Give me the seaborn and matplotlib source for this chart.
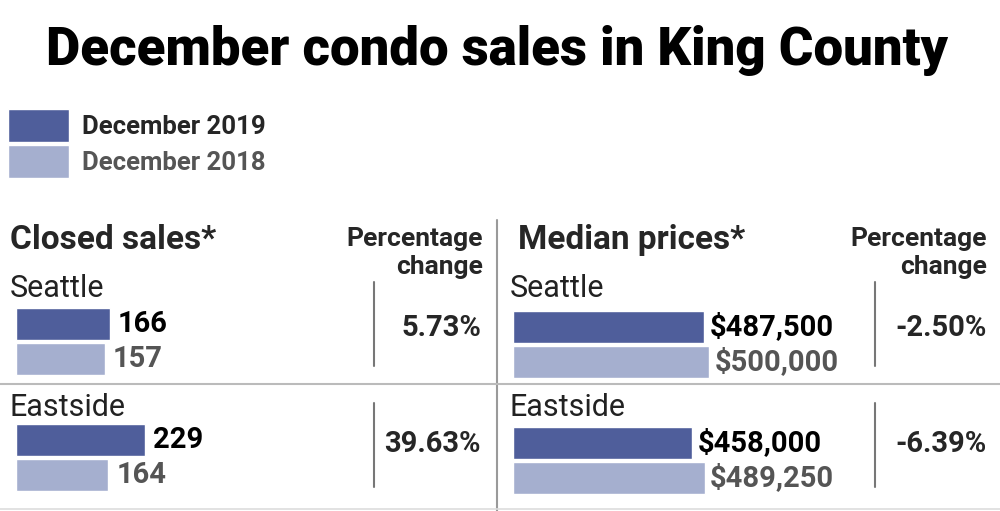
import numpy as np
import pandas as pd
import matplotlib.pyplot as plt
import seaborn as sns

# data
regions = ["Seattle", "Eastside"]
years = ["December 2019", "December 2018"]
closed_2019 = [166, 229]
closed_2018 = [157, 164]
price_2019 = [487500, 458000]
price_2018 = [500000, 489250]

DARK = "#4f5e9b"
LIGHT = "#a5afcf"
GRAY_TXT = "#555555"
LINE = "#9a9a9a"

sns.set_theme(style="white")
FONT = ["Roboto", "DejaVu Sans"]
plt.rcParams["font.family"] = FONT

W, H = 1000, 511


def px_axes(fig, left, top, width, height):
    return fig.add_axes([left / W, 1 - (top + height) / H, width / W, height / H])


def long_df(v19, v18):
    return pd.DataFrame({
        "region": regions * 2,
        "year": [years[0]] * 2 + [years[1]] * 2,
        "value": list(v19) + list(v18),
    })


fig = plt.figure(figsize=(10, 5.11), dpi=100)
fig.patch.set_facecolor("white")

# overlay for text and rules, in pixel coords
ov = fig.add_axes([0, 0, 1, 1])
ov.set_xlim(0, W)
ov.set_ylim(H, 0)
ov.axis("off")

# --- closed sales panel ---
ax1 = px_axes(fig, 16.3, 283.5, 200, 232)
sns.barplot(data=long_df(closed_2019, closed_2018), x="value", y="region", hue="year",
            hue_order=years, palette=[DARK, LIGHT], orient="h", width=0.6, gap=0.08,
            saturation=1, legend=True, ax=ax1)
ax1.set_xlim(0, 200 / 0.562)
ax1.set_ylim(1.5, -0.5)
ax1.axis("off")
ax1.bar_label(ax1.containers[0], labels=[str(v) for v in closed_2019], padding=6,
              fontsize=21, fontweight="bold", color="black")
ax1.bar_label(ax1.containers[1], labels=[str(v) for v in closed_2018], padding=6,
              fontsize=21, fontweight="bold", color=GRAY_TXT)

leg = ax1.legend(loc="upper left", bbox_to_anchor=(8 / W, 1 - 109 / H),
                 bbox_transform=fig.transFigure, frameon=False,
                 prop={"weight": "bold", "size": 18.5},
                 handlelength=2.38, handleheight=1.6, labelspacing=0.1,
                 handletextpad=0.5, borderpad=0, borderaxespad=0)
leg.get_texts()[1].set_color(GRAY_TXT)

# --- median prices panel ---
ax2 = px_axes(fig, 513.3, 286.5, 300, 232)
sns.barplot(data=long_df(price_2019, price_2018), x="value", y="region", hue="year",
            hue_order=years, palette=[DARK, LIGHT], orient="h", width=0.6, gap=0.08,
            saturation=1, legend=False, ax=ax2)
ax2.set_xlim(0, 300 / 0.000391)
ax2.set_ylim(1.5, -0.5)
ax2.axis("off")
ax2.bar_label(ax2.containers[0], labels=[f"${v:,}" for v in price_2019], padding=4,
              fontsize=21, fontweight="bold", color="black")
ax2.bar_label(ax2.containers[1], labels=[f"${v:,}" for v in price_2018], padding=4,
              fontsize=21, fontweight="bold", color=GRAY_TXT)

# percentage change computed from the values
pct_closed = [(a / b - 1) * 100 for a, b in zip(closed_2019, closed_2018)]
pct_price = [(a / b - 1) * 100 for a, b in zip(price_2019, price_2018)]

# title
ov.text(497, 65, "December condo sales in King County", ha="center", va="baseline",
        fontsize=38, fontweight="black", color="black")

# panel headers
ov.text(10, 249, "Closed sales*", ha="left", va="baseline", fontsize=24, fontweight="bold")
ov.text(518, 249, "Median prices*", ha="left", va="baseline", fontsize=24, fontweight="bold")
for xr in (483, 987):
    ov.text(xr, 246, "Percentage", ha="right", va="baseline", fontsize=19, fontweight="bold")
    ov.text(xr, 274, "change", ha="right", va="baseline", fontsize=19, fontweight="bold")

# region labels
for x0 in (10, 510):
    ov.text(x0, 297, regions[0], ha="left", va="baseline", fontsize=22, color="#222222")
    ov.text(x0, 416, regions[1], ha="left", va="baseline", fontsize=22, color="#222222")

# percentage values
for i, yb in enumerate((336, 452)):
    ov.text(481, yb, f"{pct_closed[i]:.2f}%", ha="right", va="baseline",
            fontsize=21, fontweight="bold")
    ov.text(987, yb, f"{pct_price[i]:.2f}%", ha="right", va="baseline",
            fontsize=21, fontweight="bold")

# rules
ov.plot([497, 497], [220, 511], color=LINE, lw=1.5)
ov.plot([0, 1000], [384, 384], color="#bbbbbb", lw=1.5)
ov.plot([0, 1000], [509, 509], color="#dddddd", lw=1.2)
for xv in (374, 875):
    ov.plot([xv, xv], [282, 366], color="#777777", lw=1.5)
    ov.plot([xv, xv], [403, 487], color="#777777", lw=1.5)

fig.savefig("out.png", dpi=100, facecolor="white")
